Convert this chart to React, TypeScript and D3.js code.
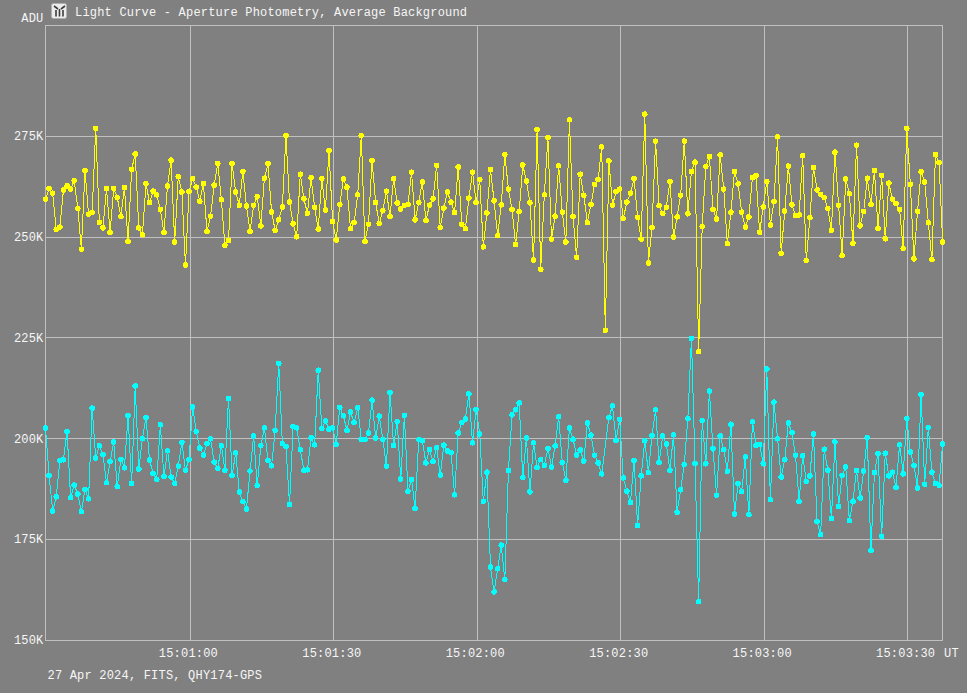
import * as React from "react";
import * as d3 from "d3";
import { select, axisBottom, axisLeft } from "d3";

const WIDTH = 967;
const HEIGHT = 693;

// values in thousands of ADU, one reading about every 0.75 s
const yellowValues: number[] = [
  259.4, 262.0, 260.9, 251.9, 252.5, 261.7, 262.7, 261.9, 264.0, 257.1,
  247.0, 266.5, 255.7, 256.1, 277.0, 253.7, 252.3, 262.1, 251.1, 262.1,
  259.8, 255.1, 262.3, 249.0, 266.8, 270.6, 252.3, 250.6, 263.2, 258.6,
  261.4, 260.5, 256.9, 251.2, 262.7, 269.1, 248.8, 265.0, 261.2, 243.1,
  261.3, 264.5, 262.4, 258.9, 263.3, 251.4, 255.2, 262.9, 268.3, 259.3,
  248.0, 249.2, 268.2, 261.2, 257.9, 266.3, 257.7, 251.4, 257.9, 260.1,
  252.8, 264.6, 268.2, 256.2, 251.7, 254.3, 257.5, 275.2, 258.7, 253.3,
  250.1, 265.6, 259.5, 255.9, 264.7, 257.4, 252.0, 264.5, 256.7, 271.4,
  253.9, 249.3, 258.1, 264.4, 262.4, 252.1, 253.6, 260.5, 275.2, 248.9,
  253.2, 269.0, 258.6, 253.4, 256.6, 261.4, 255.1, 264.5, 258.5, 257.0,
  257.9, 258.1, 266.1, 254.3, 258.6, 263.7, 254.1, 257.9, 259.5, 267.8,
  252.4, 257.2, 261.2, 258.7, 256.1, 267.4, 253.2, 252.1, 259.7, 266.1,
  258.6, 264.3, 247.6, 256.0, 266.8, 259.0, 250.4, 258.0, 270.5, 261.9,
  256.8, 248.2, 256.3, 267.9, 263.9, 258.5, 244.3, 276.7, 242.0, 260.5,
  274.7, 249.5, 255.2, 267.7, 256.2, 248.8, 279.1, 255.1, 245.0, 265.6,
  260.4, 253.6, 258.1, 263.1, 264.3, 272.4, 226.9, 268.9, 257.9, 261.3,
  261.9, 254.6, 258.7, 260.9, 264.5, 254.9, 249.5, 280.5, 243.6, 252.4,
  273.8, 257.8, 255.9, 257.4, 263.8, 250.0, 255.0, 260.4, 273.8, 255.8,
  266.3, 268.6, 221.6, 252.6, 267.5, 270.0, 256.8, 254.5, 270.4, 261.9,
  248.4, 256.2, 266.3, 263.2, 256.2, 252.5, 255.0, 264.8, 265.2, 251.2,
  257.5, 263.8, 253.0, 258.9, 274.9, 246.0, 256.5, 267.6, 258.0, 255.4,
  255.5, 270.2, 244.2, 254.8, 267.3, 261.7, 260.6, 259.8, 257.1, 251.7,
  271.1, 257.9, 245.4, 264.4, 260.8, 248.5, 272.8, 252.8, 256.4, 264.6,
  258.1, 266.5, 252.1, 265.3, 249.6, 263.4, 259.4, 258.4, 256.9, 247.2,
  277.0, 263.1, 244.6, 256.4, 266.2, 263.7, 253.6, 244.4, 270.5, 268.5,
  248.8,
];

// one reading (index 156) has no marker in the original
const cyanValues: (number | null)[] = [
  202.7, 190.9, 182.1, 185.6, 194.6, 194.8, 201.8, 185.4, 188.5, 186.3,
  181.9, 187.4, 185.1, 207.6, 195.2, 198.3, 196.1, 189.1, 194.3, 199.2,
  188.1, 194.9, 192.8, 205.7, 188.9, 213.1, 192.5, 200.0, 205.3, 194.7,
  191.4, 189.9, 203.5, 190.6, 197.0, 190.5, 188.9, 193.2, 199.1, 192.2,
  194.9, 207.9, 201.8, 197.7, 196.0, 198.8, 200.0, 194.2, 192.6, 198.3,
  192.2, 210.0, 190.9, 196.5, 186.8, 184.4, 182.6, 192.0, 200.7, 188.4,
  198.3, 202.7, 194.6, 193.3, 202.1, 218.7, 198.8, 198.1, 183.7, 203.0,
  202.7, 197.3, 192.2, 192.3, 200.2, 198.5, 217.0, 202.6, 204.4, 202.4,
  202.7, 198.6, 207.8, 205.7, 202.1, 206.6, 204.0, 207.7, 199.8, 199.8,
  201.4, 209.6, 200.2, 205.6, 199.8, 193.2, 211.5, 198.3, 204.3, 190.0,
  205.8, 187.0, 189.9, 182.7, 199.8, 199.5, 194.0, 197.3, 194.3, 197.8,
  191.0, 198.4, 197.0, 196.6, 186.1, 201.4, 204.0, 204.9, 211.1, 199.0,
  207.3, 201.2, 184.5, 191.7, 168.2, 162.0, 167.8, 173.6, 165.1, 192.1,
  205.9, 207.2, 208.9, 190.4, 200.2, 186.8, 199.0, 192.9, 194.8, 193.4,
  197.6, 193.0, 198.2, 205.5, 194.1, 189.7, 202.7, 199.9, 196.0, 197.2,
  194.5, 203.9, 200.9, 195.9, 194.0, 191.3, null, 205.3, 208.2, 199.5,
  204.8, 190.3, 187.0, 184.2, 194.6, 178.5, 190.8, 199.5, 191.6, 200.8,
  207.2, 194.1, 200.7, 198.7, 192.2, 201.0, 181.8, 187.4, 193.6, 205.0,
  224.9, 193.8, 159.6, 204.5, 193.8, 211.8, 197.5, 186.0, 200.7, 197.3,
  191.9, 203.6, 181.3, 188.9, 186.9, 195.5, 181.2, 204.2, 198.4, 198.6,
  193.8, 217.3, 184.9, 209.1, 200.0, 190.5, 194.8, 203.9, 201.5, 195.9,
  184.5, 195.8, 189.4, 190.8, 201.2, 179.5, 176.2, 197.4, 192.2, 180.2,
  199.2, 183.2, 190.9, 193.0, 179.7, 184.5, 192.1, 185.3, 192.0, 200.3,
  172.3, 191.6, 196.4, 175.8, 196.4, 190.8, 191.7, 188.0, 198.5, 191.3,
  205.0, 196.7, 193.4, 187.8, 211.0, 188.7, 202.8, 191.7, 188.9, 188.5,
  198.7,
];

const yTicks = [150, 175, 200, 225, 250, 275];
const timeTicks = ["15:01:00", "15:01:30", "15:02:00", "15:02:30", "15:03:00", "15:03:30"];

const titleText = "Light Curve - Aperture Photometry, Average Background";
const footerText = "27 Apr 2024, FITS, QHY174-GPS";

const day = "2024-04-27T";
const startTime = new Date(day + "15:00:29.697Z");
const endTime = new Date(day + "15:03:37.290Z");
const cadenceMs = 750.5;

const margin = { left: 45.5, top: 25.5, right: 942.5, bottom: 640.5 };

const TEXT = "#f6f6f6";
const GRID = "#c0c0c0";
const FONT = "'Liberation Mono', monospace";
const SPACING = 0.2;

export default function App() {
  const x = d3.scaleUtc().domain([startTime, endTime]).range([margin.left, margin.right]);
  const y = d3.scaleLinear().domain([150, 302.53]).range([640.35, 25.35]);

  const timeAt = (i: number) => new Date(startTime.getTime() + i * cadenceMs);
  const series = [
    { key: "yellow", color: "#ffff00", values: yellowValues },
    { key: "cyan", color: "#00ffff", values: cyanValues },
  ].map((s) => ({
    ...s,
    points: s.values
      .map((v, i) => ({ date: timeAt(i), value: v }))
      .filter((d) => d.value !== null) as { date: Date; value: number }[],
  }));

  const line = d3
    .line<{ date: Date; value: number }>()
    .x((d) => x(d.date))
    .y((d) => y(d.value));

  const bottomAxis = axisBottom(x)
    .offset(0)
    .tickValues(timeTicks.map((t) => new Date(day + t + ".000Z")))
    .tickFormat(d3.utcFormat("%H:%M:%S") as any)
    .tickSize(-(margin.bottom - margin.top))
    .tickPadding(8);

  const leftAxis = axisLeft(y)
    .offset(0)
    .tickValues(yTicks)
    .tickFormat((d) => `${d}K`)
    .tickSize(-(margin.right - margin.left))
    .tickPadding(2);

  const styleAxis = (g: any) => {
    g.select(".domain").remove();
    g.selectAll("line").attr("stroke", GRID).attr("shape-rendering", "crispEdges");
    g.selectAll("text")
      .attr("fill", TEXT)
      .attr("font-family", FONT)
      .attr("font-size", 12)
      .attr("letter-spacing", SPACING);
  };

  return (
    <svg
      width={WIDTH}
      height={HEIGHT}
      style={{ position: "absolute", left: 0, top: 0, display: "block", background: "#808080" }}
    >
      <g
        className="axis axis--x"
        transform={`translate(0,${margin.bottom})`}
        ref={(node) => {
          if (node) {
            select(node).call(bottomAxis as any).call(styleAxis);
            select(node).selectAll("text").attr("dx", -2);
          }
        }}
      />
      <g
        className="axis axis--y"
        transform={`translate(${margin.left},0)`}
        ref={(node) => {
          if (node) select(node).call(leftAxis as any).call(styleAxis);
        }}
      />
      <rect
        x={margin.left}
        y={margin.top}
        width={margin.right - margin.left}
        height={margin.bottom - margin.top}
        fill="none"
        stroke={GRID}
        shapeRendering="crispEdges"
      />

      {series.map((s) => (
        <g className="graph" key={s.key}>
          <path
            d={line(s.points) as string}
            fill="none"
            stroke={s.color}
            strokeWidth={1}
            shapeRendering="crispEdges"
          />
          {s.points.map((d, i) => (
            <circle
              key={i}
              cx={x(d.date)}
              cy={y(d.value)}
              r={2.8}
              fill={s.color}
              shapeRendering="crispEdges"
            />
          ))}
        </g>
      ))}

      {/* little app icon in front of the title */}
      <g>
        <rect x={51.5} y={3.5} width={15} height={15} rx={2} fill="#ececec" stroke="#b0b0b0" />
        <path
          d="M56 10V16.5M59.5 9V16.5M63 10V16.5M54 6L58 9M65 6L61 9"
          stroke="#3c3c3c"
          strokeWidth={1.6}
          fill="none"
        />
      </g>

      <g fill={TEXT} fontFamily={FONT} fontSize={12} letterSpacing={SPACING}>
        <text x={75} y={16}>{titleText}</text>
        <text x={43.5} y={22} textAnchor="end">ADU</text>
        <text x={944} y={657}>UT</text>
        <text x={47.5} y={679}>{footerText}</text>
      </g>
    </svg>
  );
}
